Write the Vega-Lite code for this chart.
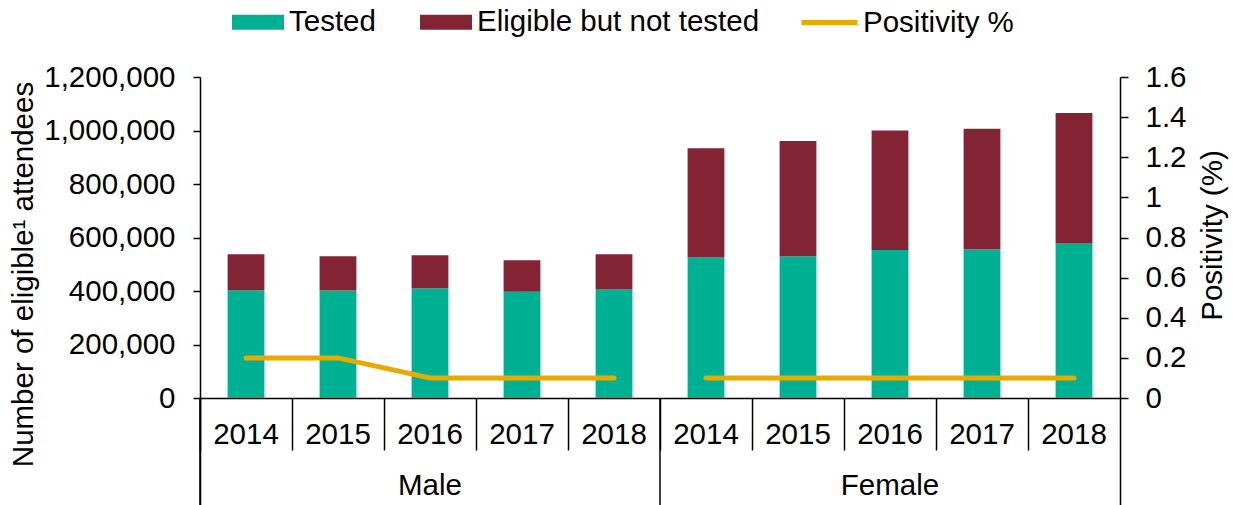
{
  "$schema": "https://vega.github.io/schema/vega-lite/v6.json",
  "width": 920,
  "height": 428,
  "autosize": {"type": "none"},
  "padding": {"left": 200, "top": 77, "right": 113, "bottom": 0},
  "config": {
    "font": "Liberation Sans",
    "view": {"stroke": null},
    "axis": {
      "labelFont": "Liberation Sans", "titleFont": "Liberation Sans",
      "labelColor": "#000000", "titleColor": "#000000",
      "domainColor": "#000000", "tickColor": "#000000",
      "domainWidth": 1.5, "tickWidth": 1.5,
      "labelFontSize": 29.5, "titleFontSize": 29.5, "titleFontWeight": "normal",
      "grid": false
    },
    "legend": {"labelFont": "Liberation Sans", "labelFontSize": 29.5, "labelColor": "#000000", "labelLimit": 0}
  },
  "datasets": {
    "counts": [
      {"sex": "Male", "year": "2014", "cat": "Male 2014", "series": "Tested", "value": 403000},
      {"sex": "Male", "year": "2014", "cat": "Male 2014", "series": "Eligible but not tested", "value": 134000},
      {"sex": "Male", "year": "2015", "cat": "Male 2015", "series": "Tested", "value": 402000},
      {"sex": "Male", "year": "2015", "cat": "Male 2015", "series": "Eligible but not tested", "value": 128000},
      {"sex": "Male", "year": "2016", "cat": "Male 2016", "series": "Tested", "value": 410000},
      {"sex": "Male", "year": "2016", "cat": "Male 2016", "series": "Eligible but not tested", "value": 124000},
      {"sex": "Male", "year": "2017", "cat": "Male 2017", "series": "Tested", "value": 397000},
      {"sex": "Male", "year": "2017", "cat": "Male 2017", "series": "Eligible but not tested", "value": 118000},
      {"sex": "Male", "year": "2018", "cat": "Male 2018", "series": "Tested", "value": 406000},
      {"sex": "Male", "year": "2018", "cat": "Male 2018", "series": "Eligible but not tested", "value": 131000},
      {"sex": "Female", "year": "2014", "cat": "Female 2014", "series": "Tested", "value": 525000},
      {"sex": "Female", "year": "2014", "cat": "Female 2014", "series": "Eligible but not tested", "value": 409000},
      {"sex": "Female", "year": "2015", "cat": "Female 2015", "series": "Tested", "value": 530000},
      {"sex": "Female", "year": "2015", "cat": "Female 2015", "series": "Eligible but not tested", "value": 431000},
      {"sex": "Female", "year": "2016", "cat": "Female 2016", "series": "Tested", "value": 553000},
      {"sex": "Female", "year": "2016", "cat": "Female 2016", "series": "Eligible but not tested", "value": 447000},
      {"sex": "Female", "year": "2017", "cat": "Female 2017", "series": "Tested", "value": 556000},
      {"sex": "Female", "year": "2017", "cat": "Female 2017", "series": "Eligible but not tested", "value": 451000},
      {"sex": "Female", "year": "2018", "cat": "Female 2018", "series": "Tested", "value": 579000},
      {"sex": "Female", "year": "2018", "cat": "Female 2018", "series": "Eligible but not tested", "value": 486000}
    ],
    "pos": [
      {"sex": "Male", "cat": "Male 2014", "positivity": 0.2},
      {"sex": "Male", "cat": "Male 2015", "positivity": 0.2},
      {"sex": "Male", "cat": "Male 2016", "positivity": 0.1},
      {"sex": "Male", "cat": "Male 2017", "positivity": 0.1},
      {"sex": "Male", "cat": "Male 2018", "positivity": 0.1},
      {"sex": "Female", "cat": "Female 2014", "positivity": 0.1},
      {"sex": "Female", "cat": "Female 2015", "positivity": 0.1},
      {"sex": "Female", "cat": "Female 2016", "positivity": 0.1},
      {"sex": "Female", "cat": "Female 2017", "positivity": 0.1},
      {"sex": "Female", "cat": "Female 2018", "positivity": 0.1}
    ],
    "groups": [
      {"sex": "Male"},
      {"sex": "Female"}
    ]
  },
  "layer": [
    {
      "data": {"name": "counts"},
      "mark": {"type": "bar", "width": {"band": 0.4}},
      "encoding": {
        "x": {
          "field": "cat", "type": "nominal", "sort": null,
          "scale": {"domain": ["Male 2014", "Male 2015", "Male 2016", "Male 2017", "Male 2018", "Female 2014", "Female 2015", "Female 2016", "Female 2017", "Female 2018"], "paddingInner": 0, "paddingOuter": 0},
          "axis": {"orient": "bottom", "offset": -107, "title": null, "bandPosition": 0, "tickSize": 52, "labelAngle": 0, "labelExpr": "split(datum.value, ' ')[1]", "labelBaseline": "alphabetic", "labelPadding": -7}
        },
        "y": {
          "field": "value", "type": "quantitative", "stack": "zero",
          "scale": {"domain": [-400000, 1200000], "nice": false},
          "axis": {"orient": "left", "values": [0, 200000, 400000, 600000, 800000, 1000000, 1200000], "format": ",d", "tickSize": 7, "labelPadding": 18, "title": "Number of eligible¹ attendees", "titleAngle": 270, "titleAlign": "center", "titleBaseline": "alphabetic", "titleX": -168, "titleY": 197}
        },
        "color": {
          "field": "series", "type": "nominal",
          "scale": {"domain": ["Tested", "Eligible but not tested"], "range": ["#00B092", "#822433"]},
          "legend": {"orient": "none", "legendX": 32, "legendY": -81, "direction": "horizontal", "title": null, "symbolType": "M-1,-0.29H1V0.29H-1Z", "symbolSize": 2704, "symbolStrokeWidth": 0, "labelOffset": 5, "columnPadding": 44, "padding": 0}
        },
        "order": {"field": "series", "sort": "descending"}
      }
    },
    {
      "data": {"name": "pos"},
      "mark": {"type": "line", "strokeWidth": 5, "strokeCap": "round"},
      "encoding": {
        "x": {
          "field": "cat", "type": "nominal", "sort": null,
          "scale": {"domain": ["Male 2014", "Male 2015", "Male 2016", "Male 2017", "Male 2018", "Female 2014", "Female 2015", "Female 2016", "Female 2017", "Female 2018"], "paddingInner": 0, "paddingOuter": 0},
          "axis": null
        },
        "y": {
          "field": "positivity", "type": "quantitative",
          "scale": {"domain": [-0.533333, 1.6], "nice": false},
          "axis": {"orient": "right", "values": [0, 0.2, 0.4, 0.6, 0.8, 1, 1.2, 1.4, 1.6], "labelExpr": "format(datum.value, '~g')", "tickSize": 8, "labelPadding": 17, "title": "Positivity (%)", "titleAngle": 270, "titleAlign": "center", "titleBaseline": "alphabetic", "titleX": 101, "titleY": 158}
        },
        "detail": {"field": "sex"},
        "stroke": {
          "datum": "Positivity %",
          "scale": {"range": ["#E8A900"]},
          "legend": {"orient": "none", "legendX": 599, "legendY": -85, "title": null, "symbolType": "stroke", "symbolSize": 3136, "symbolStrokeWidth": 5, "labelOffset": 3, "padding": 0}
        }
      }
    },
    {
      "data": {"name": "groups"},
      "mark": {"type": "rule", "strokeWidth": 1.5, "color": "#000000"},
      "encoding": {
        "x": {
          "field": "sex", "type": "nominal", "sort": null, "bandPosition": 0,
          "scale": {"domain": ["Male", "Female"], "paddingInner": 0, "paddingOuter": 0},
          "axis": {"orient": "bottom", "title": null, "ticks": false, "tickSize": 0, "domain": false, "labelAngle": 0, "labelBaseline": "alphabetic", "labelPadding": -11}
        },
        "y": {"datum": 0, "scale": {"domain": [-400000, 1200000], "nice": false}, "axis": null},
        "y2": {"datum": -400000}
      }
    }
  ],
  "resolve": {
    "scale": {"x": "independent", "y": "independent"},
    "axis": {"x": "independent", "y": "independent"}
  }
}
